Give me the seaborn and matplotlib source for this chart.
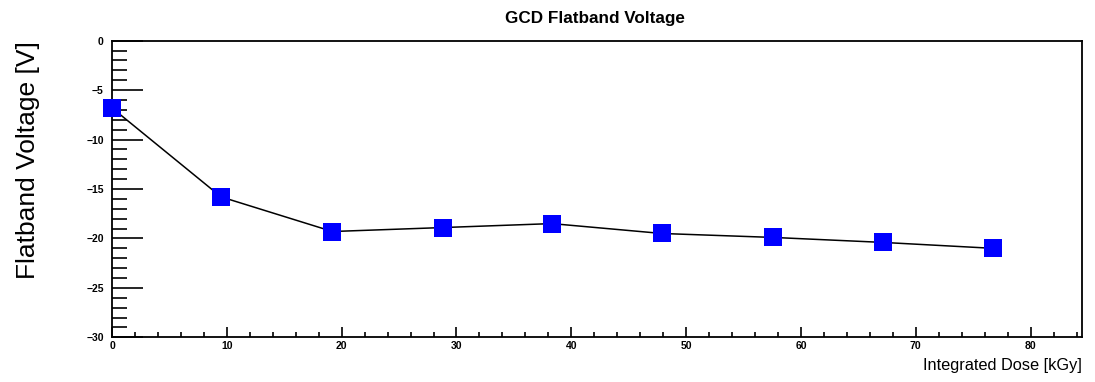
import matplotlib
matplotlib.use("Agg")
import matplotlib.pyplot as plt
from matplotlib.ticker import MultipleLocator
import seaborn as sns
import pandas as pd

# Flatband voltage of the gate-controlled diode versus integrated dose
dose_kgy = [0.0, 9.5, 19.2, 28.8, 38.3, 47.9, 57.6, 67.1, 76.7]
flatband_v = [-6.8, -15.8, -19.3, -18.9, -18.5, -19.5, -19.9, -20.4, -21.0]

x_ticks = [0, 10, 20, 30, 40, 50, 60, 70, 80]
y_ticks = [0, -5, -10, -15, -20, -25, -30]

df = pd.DataFrame({"dose": dose_kgy, "vfb": flatband_v})

sns.set_theme(style="white")
plt.rcParams["font.family"] = ["Liberation Sans", "DejaVu Sans"]
plt.rcParams["text.color"] = "black"
plt.rcParams["xtick.color"] = "black"
plt.rcParams["ytick.color"] = "black"
plt.rcParams["xtick.labelcolor"] = "black"
plt.rcParams["ytick.labelcolor"] = "black"

fig = plt.figure(figsize=(10.95, 3.82), dpi=100)
ax = fig.add_axes([0.1023, 0.117, 0.8861, 0.7765])

sns.lineplot(data=df, x="dose", y="vfb", ax=ax, color="black",
             linewidth=1.1, zorder=2)
sns.scatterplot(data=df, x="dose", y="vfb", ax=ax, marker="s", s=150,
                color="#0000ff", edgecolor="#0000ff", linewidth=0, zorder=3,
                clip_on=False)

ax.set_xlim(0, 84.5)
ax.set_ylim(-30, 0)
ax.set_xticks(x_ticks)
ax.set_yticks(y_ticks)
ax.xaxis.set_minor_locator(MultipleLocator(2))
ax.yaxis.set_minor_locator(MultipleLocator(1))

ax.tick_params(axis="both", which="both", direction="in", colors="black",
               labelsize=7.5, top=False, right=False)
ax.tick_params(axis="y", which="major", length=22, width=1.2, pad=6)
ax.tick_params(axis="y", which="minor", length=11, width=1.2)
ax.tick_params(axis="x", which="major", length=7.5, width=1.2, pad=3)
ax.tick_params(axis="x", which="minor", length=3.8, width=1.2)
ax.tick_params(axis="both", which="both", left=True, bottom=True)
for lbl in ax.get_xticklabels() + ax.get_yticklabels():
    lbl.set_fontweight("bold")

for side in ("left", "right", "top", "bottom"):
    ax.spines[side].set_visible(True)
    ax.spines[side].set_color("black")
    ax.spines[side].set_linewidth(1.3)

ax.set_xlabel("")
ax.set_ylabel("")
fig.text(0.9884, 0.0445, "Integrated Dose [kGy]", ha="right", va="center",
         fontsize=11.8)
fig.text(0.026, 0.8935, "Flatband Voltage [V]", ha="center", va="top",
         rotation=90, fontsize=19)
fig.text(0.543, 0.952, "GCD Flatband Voltage", ha="center", va="center",
         fontsize=12.3, fontweight="bold")

fig.savefig("out.png", dpi=100, facecolor="white")
